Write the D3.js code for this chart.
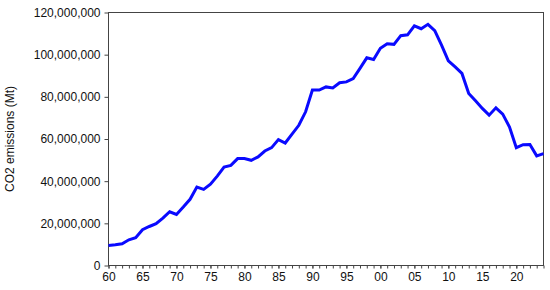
<!DOCTYPE html>
<html>
<head>
<meta charset="utf-8">
<script src="https://cdn.jsdelivr.net/npm/d3@7.9.0/dist/d3.min.js"></script>
<style>
  body { margin: 0; background: #fff; }
  svg { display: block; font-family: "Liberation Sans", Arial, sans-serif; }
  .axis text { font-size: 12px; fill: #111; }
  .axis path, .axis line { stroke: #444; }
</style>
</head>
<body>
<svg width="550" height="290"></svg>
<script>
// yearly CO2 emissions, 1960-2024
const years = d3.range(1960, 2025);
const emissions = [
  9.5, 9.8, 10.3, 12.2, 13.2, 17.0, 18.5, 19.8, 22.5, 25.5,
  24.2, 27.7, 31.4, 37.2, 36.1, 38.6, 42.4, 46.7, 47.5, 50.7,
  50.7, 49.9, 51.5, 54.3, 55.9, 59.7, 58.1, 62.3, 66.5, 72.9,
  83.2, 83.2, 84.7, 84.2, 86.7, 87.1, 88.7, 93.5, 98.5, 97.7,
  103.0, 105.2, 104.9, 109.0, 109.4, 113.7, 112.3, 114.4, 111.4, 104.5,
  97.1, 94.2, 91.1, 81.6, 78.1, 74.5, 71.3, 74.8, 71.8, 65.7,
  55.9, 57.3, 57.4, 52.0, 53.1
].map(d => d * 1e6);
const yTicks = [0, 20e6, 40e6, 60e6, 80e6, 100e6, 120e6];
const xTicks = [1960, 1965, 1970, 1975, 1980, 1985, 1990, 1995, 2000, 2005, 2010, 2015, 2020];
const yLabel = "CO2 emissions (Mt)";

const svg = d3.select("svg");
const m = { left: 108.5, right: 543.5, top: 12.5, bottom: 265.5 };

const x = d3.scaleLinear().domain([1960, 2024]).range([m.left, m.right]);
const y = d3.scaleLinear().domain([0, 120e6]).range([m.bottom, m.top]);

// frame
svg.append("rect")
  .attr("x", m.left).attr("y", m.top)
  .attr("width", m.right - m.left).attr("height", m.bottom - m.top)
  .attr("fill", "none").attr("stroke", "#444").attr("stroke-width", 1);

// y axis
const yAxis = svg.append("g").attr("class", "axis")
  .attr("transform", `translate(${m.left},0)`)
  .call(d3.axisLeft(y).tickValues(yTicks).tickSize(4).tickPadding(4)
    .tickFormat(d3.format(",")));
yAxis.select(".domain").remove();

// x axis: minor tick every year, label every 5
const xMinor = svg.append("g").attr("class", "axis")
  .attr("transform", `translate(0,${m.bottom})`)
  .call(d3.axisBottom(x).tickValues(years).tickSize(3).tickFormat(""));
xMinor.select(".domain").remove();

const xAxis = svg.append("g").attr("class", "axis")
  .attr("transform", `translate(0,${m.bottom})`)
  .call(d3.axisBottom(x).tickValues(xTicks).tickSize(3).tickPadding(4)
    .tickFormat(d => String(d % 100).padStart(2, "0")));
xAxis.select(".domain").remove();

// y label
svg.append("text")
  .attr("transform", `translate(14,${(m.top + m.bottom) / 2}) rotate(-90)`)
  .attr("text-anchor", "middle")
  .attr("font-size", 12)
  .attr("fill", "#111")
  .text(yLabel);

// line
const line = d3.line()
  .x((d, i) => x(years[i]))
  .y(d => y(d));

svg.append("path")
  .datum(emissions)
  .attr("d", line)
  .attr("fill", "none")
  .attr("stroke", "#0a0aff")
  .attr("stroke-width", 3)
  .attr("stroke-linejoin", "miter");
</script>
</body>
</html>
